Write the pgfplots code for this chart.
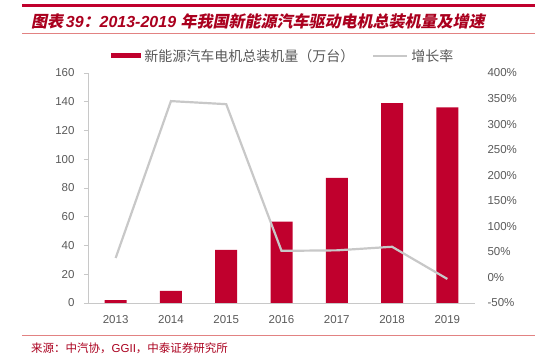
\documentclass[border=0pt]{standalone}
\usepackage{pgfplots}
\pgfplotsset{compat=1.18}
\usepackage{fontspec}
\setmainfont{Liberation Sans}
\newfontfamily\cjk{Noto Sans CJK SC}
\newfontfamily\cjkt{Noto Sans CJK SC}[FakeSlant=0.2]
\definecolor{barred}{RGB}{192,0,45}
\definecolor{titlered}{RGB}{170,0,30}
\definecolor{linegray}{RGB}{200,200,200}
\definecolor{txtgray}{RGB}{89,89,89}
\definecolor{axgray}{RGB}{200,200,200}
\definecolor{pinkline}{RGB}{226,130,130}
\begin{document}
\begin{tikzpicture}
\path (0pt,0pt) rectangle (558pt,363pt);
\coordinate (O) at (88pt,60pt);
\draw[barred, line width=3pt] (22pt,357pt) -- (535pt,357pt);
\draw[pinkline, line width=0.6pt] (22pt,330pt) -- (535pt,330pt);
\draw[pinkline, line width=0.6pt] (22pt,28pt) -- (535pt,28pt);
\node[anchor=west, text=titlered, inner sep=0pt] at (31pt,342pt) {\fontsize{16}{19}\selectfont{\cjkt\bfseries 图表}\,{\bfseries\itshape 39}{\cjkt\bfseries ：}{\bfseries\itshape 2013-2019 }{\cjkt\bfseries 年我国新能源汽车驱动电机总装机量及增速}};
\node[anchor=west, text=titlered, inner sep=0pt] at (31pt,15pt) {\fontsize{11.5}{13}\selectfont{\cjk 来源：中汽协，}GGII{\cjk ，中泰证券研究所}};
\begin{axis}[at={(O)}, anchor=south west, scale only axis, width=387pt, height=230pt,
  xmin=-0.5, xmax=6.5, ymin=0, ymax=160, ytick={0,20,...,160},
  xtick={0,...,6}, xticklabels={2013,2014,2015,2016,2017,2018,2019},
  axis x line*=bottom, axis y line*=left,
  axis line style={axgray, line width=0.8pt},
  xtick style={draw=none}, ytick style={axgray, line width=0.8pt},
  tick align=outside, major tick length=4pt,
  ticklabel style={font=\fontsize{11.5}{13}\selectfont, text=txtgray},
  /pgf/number format/assume math mode=true,
  yticklabel style={xshift=-6pt}, xticklabel style={yshift=-5pt},
  legend style={at={(0.505,1.074)}, anchor=center, draw=none, fill=none, legend columns=2,
    font=\fontsize{14}{16}\selectfont\cjk, text=txtgray, column sep=1pt,
    nodes={inner xsep=2pt},
    /tikz/every even column/.append style={column sep=16pt}},
]
\addplot[ybar, bar width=22pt, fill=barred, draw=none, legend image code/.code={\fill[barred] (0pt,-2.5pt) rectangle (30pt,2.5pt);}] coordinates {(0,2) (1,8.5) (2,37) (3,56.6) (4,87) (5,139) (6,136)};
\addlegendentry{新能源汽车电机总装机量（万台）}
\addlegendimage{legend image code/.code={\draw[linegray, line width=2pt] (0pt,0pt) -- (34pt,0pt);}}
\addlegendentry{增长率}
\end{axis}
\begin{axis}[at={(O)}, anchor=south west, scale only axis, width=387pt, height=230pt,
  xmin=-0.5, xmax=6.5, ymin=-50, ymax=400, ytick={-50,0,...,400},
  axis y line*=right, axis x line=none, y axis line style={draw=none},
  ytick style={draw=none},
  ticklabel style={font=\fontsize{11.5}{13}\selectfont, text=txtgray},
  /pgf/number format/assume math mode=true,
  yticklabel={\pgfmathprintnumber{\tick}\%}, yticklabel style={xshift=9pt},
]
\addplot[linegray, line width=2.2pt, mark=none] coordinates {(0,38) (1,345) (2,339) (3,52) (4,53) (5,60) (6,-3)};
\end{axis}
\end{tikzpicture}
\end{document}
